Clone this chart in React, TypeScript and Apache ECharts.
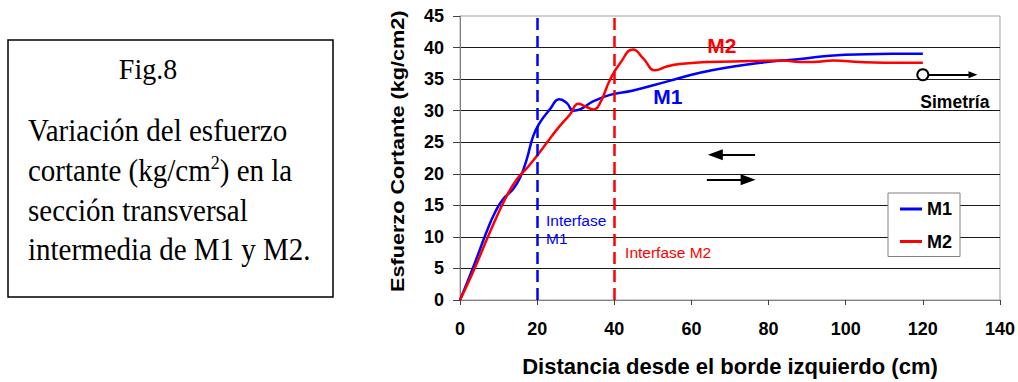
import React, { useEffect, useRef } from 'react';
import * as echarts from 'echarts';

const SANS = '"Liberation Sans", Arial, sans-serif';
const SERIF = '"Liberation Serif", "Times New Roman", serif';

// Distance from left edge (cm) and shear stress (kg/cm2)
const m1X = [0, 2.2, 4.3, 6.9, 9.1, 11.2, 13.8, 15.6, 17.3, 19.0, 20.7, 23.3, 25.8, 27.7, 29.4, 31.1, 34.6, 38.9, 44.9, 53.6, 62.2, 70.9, 79.5, 88.2, 96.8, 105.4, 112, 120];
const m1Y = [0, 3.3, 6.6, 10.8, 13.9, 16.0, 17.6, 19.4, 22.3, 26.0, 28.1, 30.2, 31.8, 31.2, 30.0, 30.2, 31.5, 32.5, 33.2, 34.6, 36.0, 37.0, 37.7, 38.2, 38.75, 38.95, 39.0, 39.0];

const m2X = [0, 3.5, 7.8, 11.7, 14.7, 17.5, 19.9, 22.5, 25.1, 28.5, 30.7, 32.4, 34.6, 36.3, 38.9, 41.5, 44.9, 47.5, 50.6, 53.6, 57, 64, 75.2, 83.8, 88.2, 91.6, 96.8, 103.7, 110, 120];
const m2Y = [0, 4.6, 10.8, 16.0, 19.1, 21.0, 22.8, 24.9, 27.0, 29.4, 31.1, 30.7, 30.2, 31.2, 34.9, 37.5, 39.7, 38.3, 36.4, 37.0, 37.4, 37.7, 37.85, 37.95, 37.7, 37.7, 37.95, 37.7, 37.6, 37.6];

const interfaseM1 = 20;
const interfaseM2 = 40;
const simetria = [120, 35.7];
const simetriaArrowEnd = 133;

const xTitle = 'Distancia desde el borde izquierdo (cm)';
const yTitle = 'Esfuerzo Cortante (kg/cm2)';

export default function App() {
  const ref = useRef<HTMLDivElement>(null);
  useEffect(() => {
    const chart = echarts.init(ref.current!, null, { renderer: 'svg' });
    const m1 = m1X.map((x, i) => [x, m1Y[i]]);
    const m2 = m2X.map((x, i) => [x, m2Y[i]]);
    const labelBase = { fontFamily: SANS };
    const serifText = { fontFamily: SERIF, fontSize: 29, fill: '#000', align: 'left', verticalAlign: 'middle' };
    chart.setOption({
      animation: false,
      backgroundColor: '#fff',
      grid: {
        left: 460, top: 16, width: 540, height: 285.7,
        show: true, borderColor: '#a0a0a0', borderWidth: 1, backgroundColor: '#fff',
      },
      legend: {
        data: ['M1', 'M2'],
        orient: 'vertical',
        left: 888, top: 193,
        padding: [6, 8, 5, 12],
        itemGap: 12.5,
        itemWidth: 22, itemHeight: 3,
        icon: 'rect',
        backgroundColor: '#fff',
        borderColor: '#808080', borderWidth: 1,
        textStyle: { fontFamily: SANS, fontSize: 18, fontWeight: 'bold', color: '#000', lineHeight: 20 },
      },
      xAxis: {
        type: 'value', min: 0, max: 140, interval: 20,
        name: xTitle, nameLocation: 'middle', nameGap: 55,
        nameTextStyle: { fontFamily: SANS, fontSize: 22, fontWeight: 'bold', color: '#000' },
        axisLine: { show: true, onZero: false, lineStyle: { color: '#808080', width: 1 } },
        axisTick: { show: true, length: 5, lineStyle: { color: '#404040' } },
        axisLabel: { fontFamily: SANS, fontSize: 18, fontWeight: 'bold', color: '#000', margin: 20 },
        splitLine: { show: false },
      },
      yAxis: {
        type: 'value', min: 0, max: 45, interval: 5,
        axisLine: { show: true, lineStyle: { color: '#808080', width: 1 } },
        axisTick: { show: true, length: 7, lineStyle: { color: '#404040' } },
        axisLabel: { fontFamily: SANS, fontSize: 18, fontWeight: 'bold', color: '#000', margin: 16 },
        splitLine: { show: true, showMaxLine: false, lineStyle: { color: '#1a1a1a', width: 1 } },
      },
      series: [
        {
          name: 'M1', type: 'line', data: m1, smooth: 0.5, showSymbol: false, symbol: 'none',
          lineStyle: { color: '#0000ff', width: 2.5 }, itemStyle: { color: '#0000ff' }, z: 3,
          markLine: {
            silent: true, symbol: 'none', label: { show: false },
            data: [{ xAxis: interfaseM1, lineStyle: { color: '#0000ff', width: 2.5, type: [12, 6] } }],
          },
        },
        {
          name: 'M2', type: 'line', data: m2, smooth: 0.5, showSymbol: false, symbol: 'none',
          lineStyle: { color: '#ff0000', width: 2.5 }, itemStyle: { color: '#ff0000' }, z: 4,
          markLine: {
            silent: true, symbol: 'none', label: { show: false },
            data: [{ xAxis: interfaseM2, lineStyle: { color: '#ff0000', width: 2.5, type: [12, 6] } }],
          },
        },
        {
          name: 'anotaciones', type: 'line', data: [], z: 5,
          markLine: {
            silent: true, label: { show: false },
            lineStyle: { color: '#000', width: 2, type: 'solid' },
            data: [
              [{ coord: [76.5, 23], symbol: 'none' }, { coord: [66.2, 23], symbol: 'triangle', symbolSize: [11, 15] }],
              [{ coord: [64, 19.05], symbol: 'none' }, { coord: [74.7, 19.05], symbol: 'triangle', symbolSize: [11, 15] }],
              [{ coord: simetria, symbol: 'emptyCircle', symbolSize: 11 }, { coord: [simetriaArrowEnd, simetria[1]], symbol: 'triangle', symbolSize: [7, 9] }],
            ],
          },
          markPoint: {
            silent: true, symbol: 'circle', symbolSize: 0,
            label: { show: true, position: 'inside' },
            data: [
              { name: 'i1', coord: [22.3, 11.13], label: { ...labelBase, formatter: 'Interfase\nM1', color: '#0000ff', fontSize: 15.5, lineHeight: 18, align: 'left' } },
              { name: 'i2', coord: [42.8, 7.5], label: { ...labelBase, formatter: 'Interfase M2', color: '#ff0000', fontSize: 15.5, align: 'left' } },
              { name: 'l1', coord: [53.9, 32.2], label: { ...labelBase, formatter: 'M1', color: '#0000ff', fontSize: 21, fontWeight: 'bold' } },
              { name: 'l2', coord: [67.9, 40.4], label: { ...labelBase, formatter: 'M2', color: '#ff0000', fontSize: 21, fontWeight: 'bold' } },
              { name: 's', coord: [128.3, 31.45], label: { ...labelBase, formatter: 'Simetría', color: '#000', fontSize: 17.5, fontWeight: 'bold' } },
            ],
          },
        },
      ],
      graphic: [
        { type: 'rect', shape: { x: 8, y: 40, width: 325, height: 257 }, style: { fill: '#fff', stroke: '#000', lineWidth: 1.5 } },
        { type: 'text', x: 148, y: 69, scaleY: 1.08, style: { ...serifText, text: 'Fig.8', fontSize: 28, align: 'center' } },
        { type: 'text', x: 28, y: 131, scaleY: 1.08, style: { ...serifText, text: 'Variación del esfuerzo' } },
        {
          type: 'text', x: 28, y: 171, scaleY: 1.08,
          style: {
            ...serifText, text: 'cortante (kg/cm{sup|2}) en la', lineHeight: 34,
            rich: { sup: { fontFamily: SERIF, fontSize: 18, lineHeight: 28, verticalAlign: 'top', fill: '#000' } },
          },
        },
        { type: 'text', x: 28, y: 211, scaleY: 1.08, style: { ...serifText, text: 'sección transversal' } },
        { type: 'text', x: 28, y: 250, scaleY: 1.08, style: { ...serifText, text: 'intermedia de M1 y M2.' } },
        {
          type: 'text', x: 397, y: 292, rotation: Math.PI / 2, scaleX: 1.14,
          style: { text: yTitle, fontFamily: SANS, fontSize: 19, fontWeight: 'bold', fill: '#000', align: 'left', verticalAlign: 'middle' },
        },
      ],
    });
    return () => chart.dispose();
  }, []);
  return <div ref={ref} style={{ position: 'fixed', left: 0, top: 0, width: 1018, height: 382, background: '#fff' }} />;
}
